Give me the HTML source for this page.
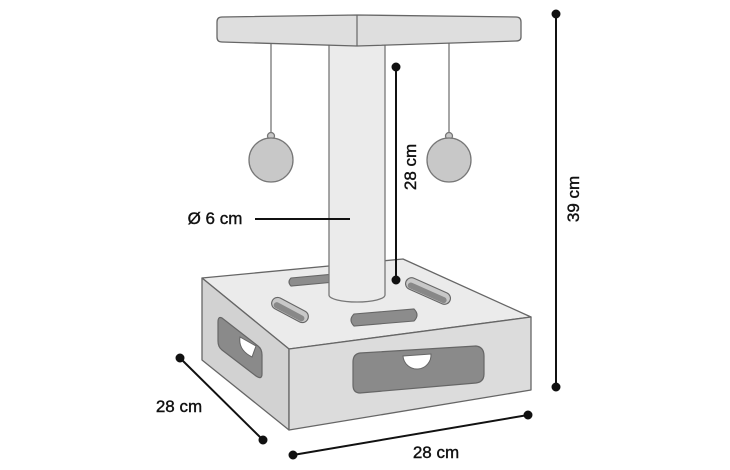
<!DOCTYPE html>
<html><head><meta charset="utf-8"><style>html,body{margin:0;padding:0;background:#fff;}svg{display:block}</style></head>
<body>
<svg width="730" height="470" viewBox="0 0 730 470" xmlns="http://www.w3.org/2000/svg" font-family="Liberation Sans, sans-serif">
<g stroke="#777" stroke-width="1.3">
<line x1="271" y1="42" x2="271" y2="133"/>
<line x1="449" y1="42" x2="449" y2="133"/>
</g>
<g fill="#c8c8c8" stroke="#777" stroke-width="1.3">
<circle cx="271" cy="136" r="3.5"/><circle cx="271" cy="160" r="22"/>
<circle cx="449" cy="136" r="3.5"/><circle cx="449" cy="160" r="22"/>
</g>
<g stroke="#666" stroke-width="1.3" stroke-linejoin="round">
<polygon points="202,278 403,259 531,317 289,349" fill="#ebebeb"/>
<polygon points="202,278 289,349 289,430 202,360" fill="#d2d2d2"/>
<polygon points="289,349 531,317 531,390 289,430" fill="#dcdcdc"/>
</g>
<g stroke="#666" stroke-width="1.1">
<path d="M291,278 L335,274 Q339,278 335,282 L291,286 Q287,282 291,278Z" fill="#8c8c8c"/>
<path d="M354,314 L414,309 Q420,315 414,321 L354,326 Q348,320 354,314Z" fill="#8c8c8c"/>
<g transform="rotate(28 290 310)"><rect x="270" y="304" width="40" height="12" rx="6" fill="#c8c8c8"/><rect x="273" y="309" width="34" height="6" rx="3" fill="#888" stroke="none"/></g>
<g transform="rotate(24 428 291)"><rect x="404" y="285" width="48" height="12" rx="6" fill="#c8c8c8"/><rect x="407" y="290" width="42" height="6" rx="3" fill="#888" stroke="none"/></g>
</g>
<path d="M360,353 L476,346 Q484,347 484,356 L484,374 Q484,382 476,383 L360,393 Q353,393 353,385 L353,362 Q353,354 360,353Z" fill="#8a8a8a" stroke="#666" stroke-width="1.2"/>
<path d="M403,356 L431,354 A14,14 0 0 1 403,356Z" fill="#fff" stroke="#666" stroke-width="1"/>
<path d="M222,318 L258,346 Q262,349 262,355 L262,374 Q262,380 256,376 L222,350 Q218,347 218,341 L218,322 Q218,316 222,318Z" fill="#8a8a8a" stroke="#666" stroke-width="1.2"/>
<path d="M240,337 Q238,350 252,357 L256,346 Z" fill="#fff" stroke="#666" stroke-width="1"/>
<path d="M329,44 L385,44 L385,295 A28,7 0 0 1 329,295 Z" fill="#ebebeb" stroke="#777" stroke-width="1.3"/>
<path d="M222,17 L357,15 L516,17 Q521,17 521,22 L521,37 Q521,41 516,41 L357,46 L222,42 Q217,42 217,37 L217,22 Q217,17 222,17Z" fill="#dedede" stroke="#666" stroke-width="1.3"/>
<line x1="357" y1="15" x2="357" y2="46" stroke="#666" stroke-width="1.2"/>
<g stroke="#111" stroke-width="2" fill="#111">
<line x1="396" y1="67" x2="396" y2="280"/><circle cx="396" cy="67" r="3.5"/><circle cx="396" cy="280" r="3.5"/>
<line x1="556" y1="14" x2="556" y2="387"/><circle cx="556" cy="14" r="3.5"/><circle cx="556" cy="387" r="3.5"/>
<line x1="180" y1="358" x2="263" y2="440"/><circle cx="180" cy="358" r="3.5"/><circle cx="263" cy="440" r="3.5"/>
<line x1="293" y1="455" x2="528" y2="415"/><circle cx="293" cy="455" r="3.5"/><circle cx="528" cy="415" r="3.5"/>
<line x1="255" y1="219" x2="350" y2="219"/>
</g>
<g fill="#111" stroke="#111" stroke-width="0.4" font-size="17">
<text x="215" y="224" text-anchor="middle">Ø 6 cm</text>
<text transform="translate(416,167) rotate(-90)" text-anchor="middle">28 cm</text>
<text transform="translate(579,199) rotate(-90)" text-anchor="middle">39 cm</text>
<text x="179" y="412" text-anchor="middle">28 cm</text>
<text x="436" y="458" text-anchor="middle">28 cm</text>
</g>
</svg>
</body></html>
